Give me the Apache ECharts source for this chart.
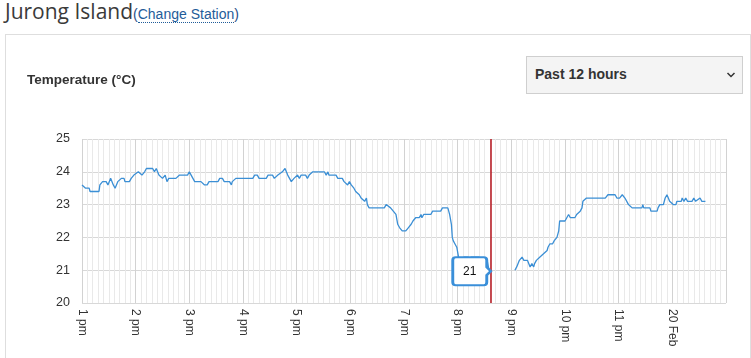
<!DOCTYPE html>
<html><head><meta charset="utf-8">
<script src="https://cdn.jsdelivr.net/npm/echarts@6/dist/echarts.min.js"></script>
<style>
html,body{margin:0;padding:0;background:#fff;width:751px;height:358px;overflow:hidden;}
#frame{position:absolute;left:5px;top:34px;width:746px;height:400px;border:1px solid #dedede;box-sizing:border-box;}
#title{position:absolute;left:5px;top:1px;font-family:'Open Sans';font-size:21px;line-height:21px;color:#3a3a3a;white-space:nowrap;}
#title .p{font-family:'Liberation Sans';font-size:14px;color:#1f4f86;}
#title a{font-family:'Liberation Sans';font-size:14px;color:#1f5c99;text-decoration:none;border-bottom:1px dotted #1f5c99;}
#chart{position:absolute;left:0;top:0;width:751px;height:358px;}
#dd{position:absolute;left:526px;top:56px;width:217px;height:38px;box-sizing:border-box;background:#f4f4f4;border:1px solid #cfcfcf;font-family:'Liberation Sans';font-weight:bold;font-size:14px;line-height:34px;padding-left:8px;color:#333;}
#dd svg{position:absolute;left:199px;top:15px;}
</style></head>
<body>
<div id="frame"></div>
<div id="title">Jurong Island<span class="p">(</span><a>Change Station</a><span class="p">)</span></div>
<div id="chart"></div>
<div id="dd">Past 12 hours<svg width="10" height="7"><polyline points="1.5,1 5,4.5 8.5,1" fill="none" stroke="#333" stroke-width="1.5"/></svg></div>
<script>
// minutes after 1 pm, temperature in °C (null = gap in the record)
const minutesAfter1pm = [0,4,8,9,19,20,23,27,29,32,35,37,40,44,47,48,53,55,57,58,63,65,67,70,72,79,81,83,86,90,93,95,97,101,105,109,113,118,120,122,126,129,133,137,140,142,152,154,157,159,165,167,168,170,172,191,193,196,198,206,208,213,215,219,221,224,227,230,232,234,237,241,243,245,250,252,254,258,265,271,273,275,276,284,286,291,293,295,297,299,301,304,306,310,312,316,318,319,321,323,338,340,345,348,351,353,355,358,362,365,368,370,373,377,379,380,382,385,390,392,401,403,409,411,413,414,415,417,419,421,424,427,432,433,435,444,445,453,455,457,470,484,486,489,492,494,498,501,503,505,506,508,512,516,520,521,523,526,528,531,533,534,540,542,544,546,551,553,557,559,560,564,585,588,596,598,601,604,607,611,615,626,627,628,635,636,643,644,645,646,650,652,654,657,661,664,665,670,671,673,675,677,682,684,686,688,691,693,697];
const tempC = [23.6,23.5,23.5,23.4,23.4,23.6,23.7,23.7,23.6,23.8,23.6,23.5,23.7,23.8,23.8,23.7,23.7,23.8,23.8,23.9,24.0,24.0,23.9,24.0,24.1,24.1,24.0,24.1,23.9,23.8,23.9,23.7,23.8,23.8,23.8,23.9,23.9,23.9,24.0,23.9,23.7,23.7,23.7,23.6,23.6,23.7,23.7,23.8,23.8,23.7,23.7,23.6,23.7,23.7,23.8,23.8,23.9,23.9,23.8,23.8,23.9,23.9,23.8,23.9,23.9,24.0,24.1,23.9,23.9,23.7,23.8,23.9,23.8,23.9,23.9,23.8,23.9,24.0,24.0,24.0,23.9,24.0,23.9,23.9,23.8,23.8,23.7,23.7,23.6,23.7,23.6,23.5,23.4,23.3,23.2,23.1,23.2,23.0,22.9,22.9,22.9,23.0,22.9,22.8,22.7,22.4,22.3,22.2,22.2,22.3,22.4,22.5,22.6,22.6,22.7,22.6,22.7,22.7,22.7,22.8,22.8,22.9,22.9,22.7,22.4,22.0,21.9,21.8,21.7,21.4,21.3,21.4,21.4,21.3,21.4,21.4,21.3,21.3,21.0,21.0,null,21.0,21.1,21.3,21.4,21.3,21.3,21.1,21.2,21.1,21.2,21.3,21.4,21.5,21.6,21.7,21.8,21.8,21.9,22.0,22.2,22.5,22.5,22.6,22.7,22.6,22.6,22.7,22.8,22.9,23.1,23.2,23.2,23.3,23.3,23.2,23.2,23.3,23.2,23.0,22.9,22.9,23.0,22.9,22.9,22.8,22.8,22.9,22.9,23.0,23.0,23.2,23.3,23.1,23.0,23.0,23.1,23.1,23.2,23.1,23.2,23.1,23.1,23.2,23.1,23.1,23.2,23.1,23.1];
const hourLabels = ['1 pm','2 pm','3 pm','4 pm','5 pm','6 pm','7 pm','8 pm','9 pm','10 pm','11 pm','20 Feb','1 am'];
const yTicks = [20,21,22,23,24,25];
const cursorMinute = 457;   // 8:37 pm
const cursorValue = 21;

const chart = echarts.init(document.getElementById('chart'), null, {renderer:'canvas'});
chart.setOption({
  animation:false,
  title:{text:'Temperature (°C)',left:27,top:73,padding:0,textStyle:{fontFamily:'Liberation Sans',fontSize:13.5,fontWeight:'bold',color:'#333'}},
  grid:{left:82,right:25,top:139,bottom:55},
  xAxis:{type:'value',min:0,max:720,interval:60,
    axisLine:{show:false},axisTick:{show:false},
    axisLabel:{rotate:-90,margin:6,fontSize:12,fontFamily:'Liberation Sans',color:'#333',showMaxLabel:false,
      formatter:v=>hourLabels[Math.round(v/60)]},
    splitLine:{show:true,lineStyle:{color:'#d2d2d2',width:1}},
    minorTick:{show:false,splitNumber:10},
    minorSplitLine:{show:true,lineStyle:{color:'#e9e9e9',width:1}}},
  yAxis:{type:'value',min:yTicks[0],max:yTicks[yTicks.length-1],interval:1,
    axisLine:{show:false},axisTick:{show:false},
    axisLabel:{margin:12,fontSize:12.5,fontFamily:'Liberation Sans',color:'#333'},
    splitLine:{lineStyle:{color:'#d8d8d8'}}},
  series:[{type:'line',showSymbol:false,connectNulls:false,
    data:minutesAfter1pm.map((m,i)=>[m,tempC[i]===null?'-':tempC[i]]),
    lineStyle:{color:'#3b8fd5',width:1.3},
    markLine:{silent:true,symbol:'none',label:{show:false},
      lineStyle:{color:'#b5121b',width:1.5,type:'solid'},
      data:[{xAxis:cursorMinute}]},
    markPoint:{silent:true,
      symbol:'path://M3,0 L31,0 Q34,0 34,3 L34,10 L38,14 L34,18 L34,25 Q34,28 31,28 L3,28 Q0,28 0,25 L0,3 Q0,0 3,0 Z',
      symbolSize:[38,28],symbolOffset:[-19,1],
      itemStyle:{color:'#fff',borderColor:'#3a8fd9',borderWidth:2.5},
      label:{show:true,position:'inside',offset:[-2,0],formatter:p=>String(p.value),color:'#111',fontSize:12,fontFamily:'Liberation Sans'},
      data:[{coord:[cursorMinute,cursorValue],value:cursorValue}]}
  }]
});
</script>
</body></html>
